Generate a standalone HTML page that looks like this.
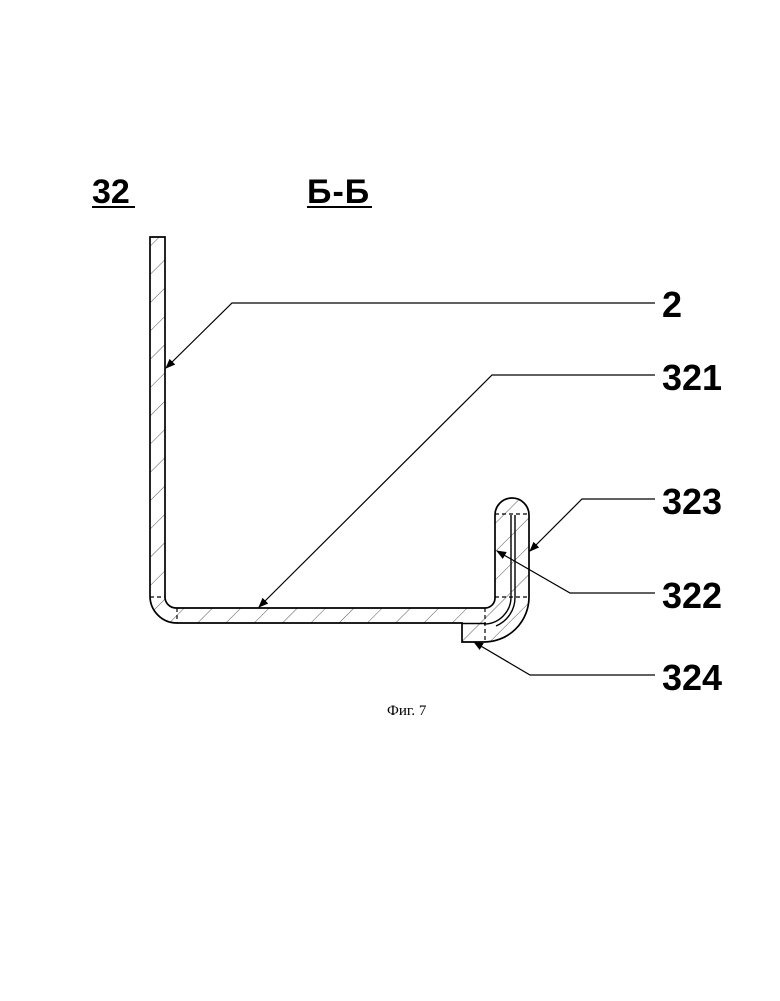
<!DOCTYPE html>
<html><head><meta charset="utf-8"><style>
html,body{margin:0;padding:0;background:#fff;}
svg{display:block}
.l{font-family:"Liberation Sans","DejaVu Sans",sans-serif;font-weight:bold;font-size:36px;fill:#000}
</style></head><body>
<svg width="780" height="1001" viewBox="0 0 780 1001" xmlns="http://www.w3.org/2000/svg">
<defs>
<pattern id="h" patternUnits="userSpaceOnUse" width="20" height="20" patternTransform="rotate(45)">
<line x1="0" y1="0" x2="0" y2="20" stroke="#444" stroke-width="0.9"/>
</pattern>
<marker id="a" markerWidth="10" markerHeight="8" refX="9" refY="4" orient="auto" markerUnits="userSpaceOnUse">
<path d="M0,0 L10,4 L0,8 Z" fill="#000"/>
</marker>
</defs>
<path d="M150,237 H165 V597 A11,11 0 0 0 176,608 H485 A10,10 0 0 0 495,598 V515 A17,17 0 0 1 529,515 V597 A45,45 0 0 1 484,642 H462 V624 H462 L462,623 H177 A27,27 0 0 1 150,596 Z" fill="url(#h)" stroke="#000" stroke-width="1.7"/>
<path d="M462,623.5 H486" stroke="#000" stroke-width="1.4"/>
<path d="M511,515 V597 A27,27 0 0 1 484,624" fill="none" stroke="#000" stroke-width="1.4"/>
<path d="M515,515 V597 A31,31 0 0 1 496,626" fill="none" stroke="#000" stroke-width="1.4"/>
<g stroke="#000" stroke-width="1.2" stroke-dasharray="4,3" fill="none">
<path d="M150,597 H165"/><path d="M177,608 V623"/>
<path d="M495,514 H529"/><path d="M495,597 H529"/><path d="M485,608 V642"/>
</g>
<g stroke="#000" stroke-width="1.2" fill="none">
<path d="M655,303 H232 L166,368" marker-end="url(#a)"/>
<path d="M655,375 H492 L259,607" marker-end="url(#a)"/>
<path d="M655,499 H582 L530,551" marker-end="url(#a)"/>
<path d="M655,593 H570 L497,551" marker-end="url(#a)"/>
<path d="M655,675 H530 L474,642" marker-end="url(#a)"/>
</g>
<text class="l" x="662" y="317">2</text>
<text class="l" x="662" y="390">321</text>
<text class="l" x="662" y="514">323</text>
<text class="l" x="662" y="608">322</text>
<text class="l" x="662" y="690">324</text>
<text class="l" x="92" y="203" style="font-size:34px">32</text>
<line x1="92" y1="207" x2="135" y2="207" stroke="#000" stroke-width="2"/>
<text class="l" x="307" y="203" style="font-size:34px;letter-spacing:1px">Б-Б</text>
<line x1="307" y1="207" x2="372" y2="207" stroke="#000" stroke-width="2"/>
<text x="387" y="715" style="font-family:'Liberation Serif',serif;font-size:15px">Фиг. 7</text>
</svg>
</body></html>
